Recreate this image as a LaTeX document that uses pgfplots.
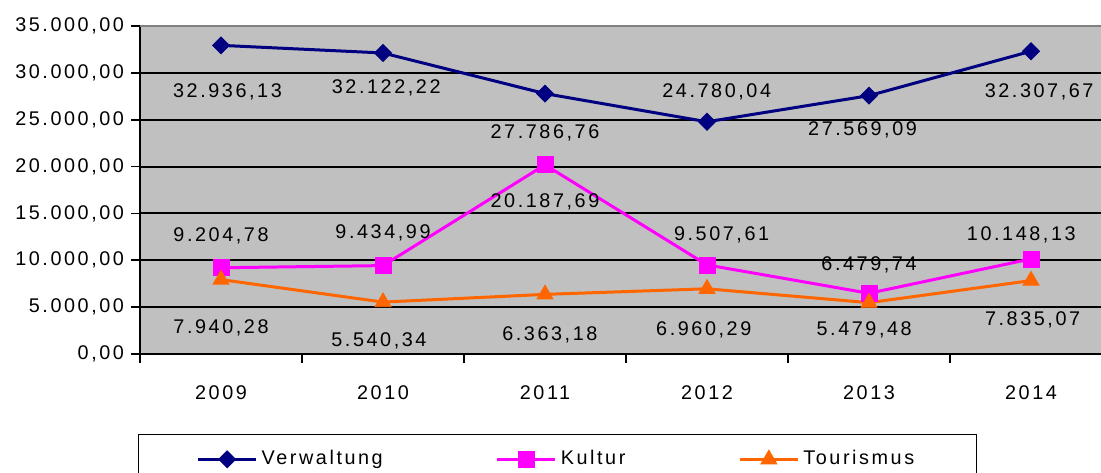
\documentclass[border=0pt]{standalone}
\usepackage{fontspec}
\setmainfont{Liberation Sans}[LetterSpace=13]
\usepackage{pgfplots}
\pgfplotsset{compat=1.18}
\definecolor{vcol}{HTML}{000080}
\definecolor{kcol}{HTML}{FF00FF}
\definecolor{tcol}{HTML}{FF6600}
\definecolor{bgcol}{HTML}{C0C0C0}
\definecolor{topcol}{HTML}{808080}
\begin{document}
\fontsize{9.9pt}{11.9pt}\selectfont
\begin{tikzpicture}
\begin{axis}[
  at={(70pt,-177pt)}, anchor=south west,
  scale only axis, width=486pt, height=164pt,
  xmin=-0.5, xmax=5.5, ymin=0, ymax=35000,
  axis background/.style={fill=bgcol},
  axis lines*=left, axis line style={-, black, line width=1pt},
  xtick={0,...,5}, xticklabels={2009,2010,2011,2012,2013,2014},
  minor xtick={-0.5,0.5,1.5,2.5,3.5,4.5,5.5},
  major x tick style={draw=none},
  minor tick length=4.5pt, major tick length=4.5pt,
  tick align=outside,
  tick style={black, line width=0.8pt},
  ytick={0,5000,...,35000},
  ymajorgrids, major grid style={black, line width=1pt},
  scaled y ticks=false,
  /pgf/number format/assume math mode=true,
  yticklabel style={/pgf/number format/.cd, fixed, fixed zerofill, precision=2, 1000 sep={.}, use comma},
  xticklabel style={yshift=-8pt},
  legend style={at={(-0.002,-0.244)}, anchor=north west, draw=black, line width=0.6pt,
    inner xsep=29pt, inner ysep=6pt, fill=white,
    /tikz/every even column/.append style={column sep=54.5pt}},
  legend columns=3, legend cell align=left,
  legend image code/.code={\draw[mark repeat=2,mark phase=2,#1] plot coordinates {(0pt,0pt) (14.5pt,0pt) (29pt,0pt)};},
  clip=false,
]
\addplot[vcol, line width=1.5pt, mark=diamond*, mark size=4.25pt, mark options={xscale=1.33, solid, line width=0.4pt}]
  coordinates {(0,32936.13) (1,32122.22) (2,27786.76) (3,24780.04) (4,27569.09) (5,32307.67)};
\addlegendentry{Verwaltung}
\addplot[kcol, line width=1.5pt, mark=square*, mark size=4pt, mark options={solid, line width=0.4pt}]
  coordinates {(0,9204.78) (1,9434.99) (2,20187.69) (3,9507.61) (4,6479.74) (5,10148.13)};
\addlegendentry{Kultur}
\addplot[tcol, line width=1.5pt, mark=triangle*, mark size=4.6pt, mark options={solid, line width=0.4pt}]
  coordinates {(0,7940.28) (1,5540.34) (2,6363.18) (3,6960.29) (4,5479.48) (5,7835.07)};
\addlegendentry{Tourismus}
\draw[topcol, line width=1pt] (rel axis cs:0,1) -- (rel axis cs:1,1);
% data labels
\node at (axis cs:0.04,27957) {32.936,13};
\node at (axis cs:1.02,28384) {32.122,22};
\node at (axis cs:2.0,23583) {27.786,76};
\node at (axis cs:3.06,27957) {24.780,04};
\node at (axis cs:3.96,23903) {27.569,09};
\node at (axis cs:5.05,27957) {32.307,67};
\node at (axis cs:0.0,12592) {9.204,78};
\node at (axis cs:1.0,12912) {9.434,99};
\node at (axis cs:2.0,16220) {20.187,69};
\node at (axis cs:3.09,12698) {9.507,61};
\node at (axis cs:4.0,9497) {6.479,74};
\node at (axis cs:4.94,12698) {10.148,13};
\node at (axis cs:0.0,2774) {7.940,28};
\node at (axis cs:0.975,1387) {5.540,34};
\node at (axis cs:2.03,2027) {6.363,18};
\node at (axis cs:2.98,2561) {6.960,29};
\node at (axis cs:3.97,2561) {5.479,48};
\node at (axis cs:5.01,3628) {7.835,07};
\end{axis}
\pgfresetboundingbox
\useasboundingbox (0,0) rectangle (550.5pt,-236pt);
\end{tikzpicture}
\end{document}
